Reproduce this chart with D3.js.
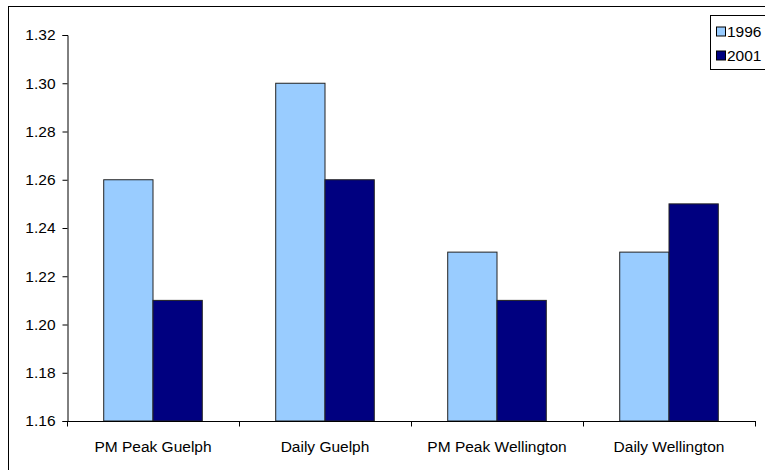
<!DOCTYPE html>
<html><head><meta charset="utf-8">
<script src="https://cdn.jsdelivr.net/npm/d3@7"></script>
<style>body{margin:0;background:#fff}svg{display:block;font-family:"Liberation Sans",Arial,sans-serif}</style>
</head><body><svg id="c" width="765" height="470"></svg>
<script>
const categories = ["PM Peak Guelph","Daily Guelph","PM Peak Wellington","Daily Wellington"];
const seriesNames = ["1996","2001"];
const values1996 = [1.26,1.30,1.23,1.23];
const values2001 = [1.21,1.26,1.21,1.25];
const yTicks = [1.16,1.18,1.20,1.22,1.24,1.26,1.28,1.30,1.32];
const colors = ["#99CCFF","#000080"];

const svg = d3.select("#c");
svg.append("rect").attr("x",8.5).attr("y",6.5).attr("width",800).attr("height",500)
  .attr("fill","none").attr("stroke","#000").attr("stroke-width",1);

const pL=67, pR=755, pT=35, pB=421;
const FS = 15.5;
const x = d3.scaleBand().domain(categories).range([pL,pR]).paddingInner(0).paddingOuter(0);
const y = d3.scaleLinear().domain([1.16,1.32]).range([pB,pT]);
const xs = d3.scaleBand().domain(seriesNames).range([0,x.bandwidth()]).paddingInner(0).paddingOuter(0.745);

const series=[values1996,values2001];
categories.forEach((c,i)=>{
  seriesNames.forEach((s,j)=>{
    svg.append("rect")
      .attr("x",x(c)+xs(s)).attr("y",y(series[j][i]))
      .attr("width",xs.bandwidth()).attr("height",y(1.16)-y(series[j][i]))
      .attr("fill",colors[j]).attr("stroke","#222").attr("stroke-width",1);
  });
});

const yAxis = svg.append("g").attr("transform",`translate(${pL+0.5},0)`)
  .call(d3.axisLeft(y).tickValues(yTicks).tickFormat(d3.format(".2f")).tickSize(5).tickPadding(7));
yAxis.selectAll("text").attr("font-size",FS).attr("fill","#000").attr("font-family","Liberation Sans, Arial");
yAxis.selectAll("line,path").attr("stroke","#000");

const xAxis = svg.append("g").attr("transform",`translate(0,${pB+0.5})`);
xAxis.append("line").attr("x1",pL).attr("x2",pR+1).attr("y1",0).attr("y2",0).attr("stroke","#000");
const xt = categories.map(c=>x(c)).concat([pR]);
xAxis.selectAll("line.t").data(xt).enter().append("line").attr("class","t")
  .attr("x1",d=>Math.round(d)+0.5).attr("x2",d=>Math.round(d)+0.5).attr("y1",0).attr("y2",5).attr("stroke","#000");
xAxis.selectAll("text").data(categories).enter().append("text")
  .attr("x",d=>x(d)+x.bandwidth()/2).attr("y",30).attr("text-anchor","middle")
  .attr("font-size",FS).attr("fill","#000").text(d=>d);

const lg = svg.append("g");
lg.append("rect").attr("x",710.5).attr("y",15.5).attr("width",80).attr("height",54)
  .attr("fill","#fff").attr("stroke","#000");
seriesNames.forEach((s,j)=>{
  const yy = 31.5 + j*24;
  lg.append("rect").attr("x",716.5).attr("y",yy-4.5).attr("width",9).attr("height",9)
    .attr("fill",colors[j]).attr("stroke","#000");
  lg.append("text").attr("x",727).attr("y",yy+5.5).attr("font-size",FS).attr("fill","#000").text(s);
});
</script></body></html>
